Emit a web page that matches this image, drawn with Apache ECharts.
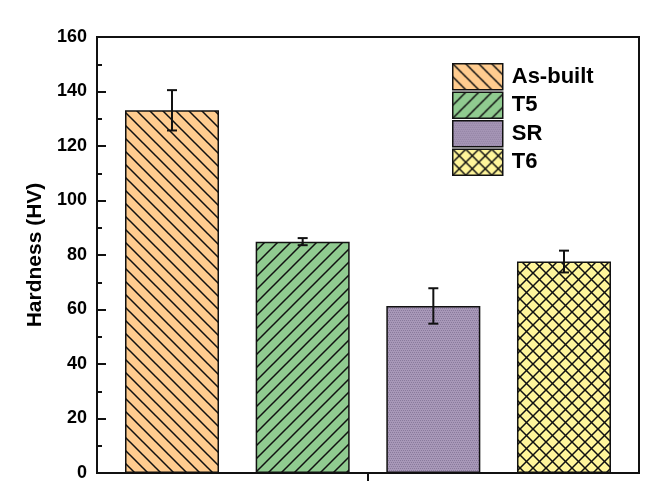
<!DOCTYPE html>
<html>
<head>
<meta charset="utf-8">
<script src="https://cdn.jsdelivr.net/npm/echarts@6/dist/echarts.min.js"></script>
<style>
  html, body { margin: 0; padding: 0; background: #ffffff; }
  #chart { width: 662px; height: 488px; }
</style>
</head>
<body>
<div id="chart"></div>
<script>
// Sample groups, mean hardness and error (HV)
const groups = ['As-built', 'T5', 'SR', 'T6'];
const hardness = [133.1, 84.9, 61.3, 77.6];
const hardnessErr = [7.4, 1.3, 6.5, 4.0];
const yTicks = [0, 20, 40, 60, 80, 100, 120, 140, 160];

const FONT = '"Liberation Sans", Arial, sans-serif';
const BAR_W = 94;
const BAR_GAP = 0.39;

// Tile helpers for the hatched fills
function tile(size, bg, draw) {
  const c = document.createElement('canvas');
  c.width = size; c.height = size;
  const ctx = c.getContext('2d');
  ctx.fillStyle = bg;
  ctx.fillRect(0, 0, size, size);
  ctx.strokeStyle = '#111';
  ctx.lineWidth = 1.5;
  draw(ctx, size);
  return c;
}
function backslash(ctx, s) {
  ctx.beginPath();
  for (let k = -1; k <= 1; k++) { ctx.moveTo(k * s - 1, -1); ctx.lineTo(k * s + s + 1, s + 1); }
  ctx.stroke();
}
function slash(ctx, s) {
  ctx.beginPath();
  for (let k = 0; k <= 2; k++) { ctx.moveTo(k * s + 1, -1); ctx.lineTo(k * s - s - 1, s + 1); }
  ctx.stroke();
}
function stipple(size) {
  const c = document.createElement('canvas');
  c.width = size; c.height = size;
  const ctx = c.getContext('2d');
  ctx.fillStyle = '#a898b8';
  ctx.fillRect(0, 0, size, size);
  ctx.fillStyle = '#8a7b9c';
  for (let y = 0; y < size; y += 2) {
    for (let x = (y / 2) % 2; x < size; x += 2) ctx.fillRect(x, y, 1, 1);
  }
  return c;
}

const fills = [
  { image: tile(13, '#ffcc8f', backslash), repeat: 'repeat' },
  { image: tile(13, '#90cb90', slash), repeat: 'repeat' },
  { image: stipple(8), repeat: 'repeat' },
  { image: tile(13, '#fff59b', (ctx, s) => { backslash(ctx, s); slash(ctx, s); }), repeat: 'repeat' }
];

const barSeries = groups.map((name, i) => ({
  name: name,
  type: 'bar',
  data: [hardness[i]],
  barWidth: BAR_W,
  barGap: (BAR_GAP * 100) + '%',
  itemStyle: { color: fills[i], borderColor: '#111', borderWidth: 1.5 },
  emphasis: { disabled: true }
}));

const errorSeries = {
  type: 'custom',
  silent: true,
  z: 10,
  data: groups.map((g, i) => [0, hardness[i], hardnessErr[i], i]),
  encode: { x: 0, y: 1 },
  renderItem: function (params, api) {
    const v = api.value(1), e = api.value(2), i = api.value(3);
    const step = BAR_W * (1 + BAR_GAP);
    const base = api.coord([0, v]);
    const x = base[0] + (i - (groups.length - 1) / 2) * step;
    const top = api.coord([0, v + e])[1];
    const bot = api.coord([0, v - e])[1];
    const half = 5;
    const style = { stroke: '#111', lineWidth: 2, fill: null };
    return {
      type: 'group',
      children: [
        { type: 'line', shape: { x1: x, y1: top, x2: x, y2: bot }, style: style },
        { type: 'line', shape: { x1: x - half, y1: top, x2: x + half, y2: top }, style: style },
        { type: 'line', shape: { x1: x - half, y1: bot, x2: x + half, y2: bot }, style: style }
      ]
    };
  }
};

const chart = echarts.init(document.getElementById('chart'), null, { renderer: 'canvas' });
chart.setOption({
  backgroundColor: '#ffffff',
  animation: false,
  grid: {
    left: 97, right: 23, top: 37, bottom: 15,
    show: true, borderColor: '#111', borderWidth: 2, containLabel: false
  },
  legend: {
    orient: 'vertical',
    left: 452, top: 63,
    padding: 0,
    itemWidth: 50, itemHeight: 26, itemGap: 1,
    icon: 'rect',
    itemStyle: { borderColor: '#111', borderWidth: 1.5 },
    textStyle: { fontFamily: FONT, fontWeight: 'bold', fontSize: 22, color: '#000', padding: [0, 0, 0, 4] },
    data: groups
  },
  xAxis: {
    type: 'category',
    data: [''],
    axisLine: { lineStyle: { color: '#111', width: 2 } },
    axisTick: { show: true, alignWithLabel: true, inside: false, length: 8, lineStyle: { color: '#111', width: 2 } },
    axisLabel: { show: false },
    splitLine: { show: false }
  },
  yAxis: {
    type: 'value',
    min: yTicks[0], max: yTicks[yTicks.length - 1], interval: yTicks[1] - yTicks[0],
    name: 'Hardness (HV)',
    nameLocation: 'middle',
    nameGap: 45,
    nameRotate: 90,
    nameTextStyle: { fontFamily: FONT, fontWeight: 'bold', fontSize: 21, color: '#000' },
    axisLine: { show: true, lineStyle: { color: '#111', width: 2 } },
    axisTick: { show: true, inside: true, length: 9, lineStyle: { color: '#111', width: 2 } },
    minorTick: { show: true, splitNumber: 2, length: 5, lineStyle: { color: '#111', width: 2 } },
    axisLabel: { fontFamily: FONT, fontWeight: 'bold', fontSize: 18, color: '#000', margin: 10 },
    splitLine: { show: false }
  },
  series: barSeries.concat([errorSeries])
});
</script>
</body>
</html>
